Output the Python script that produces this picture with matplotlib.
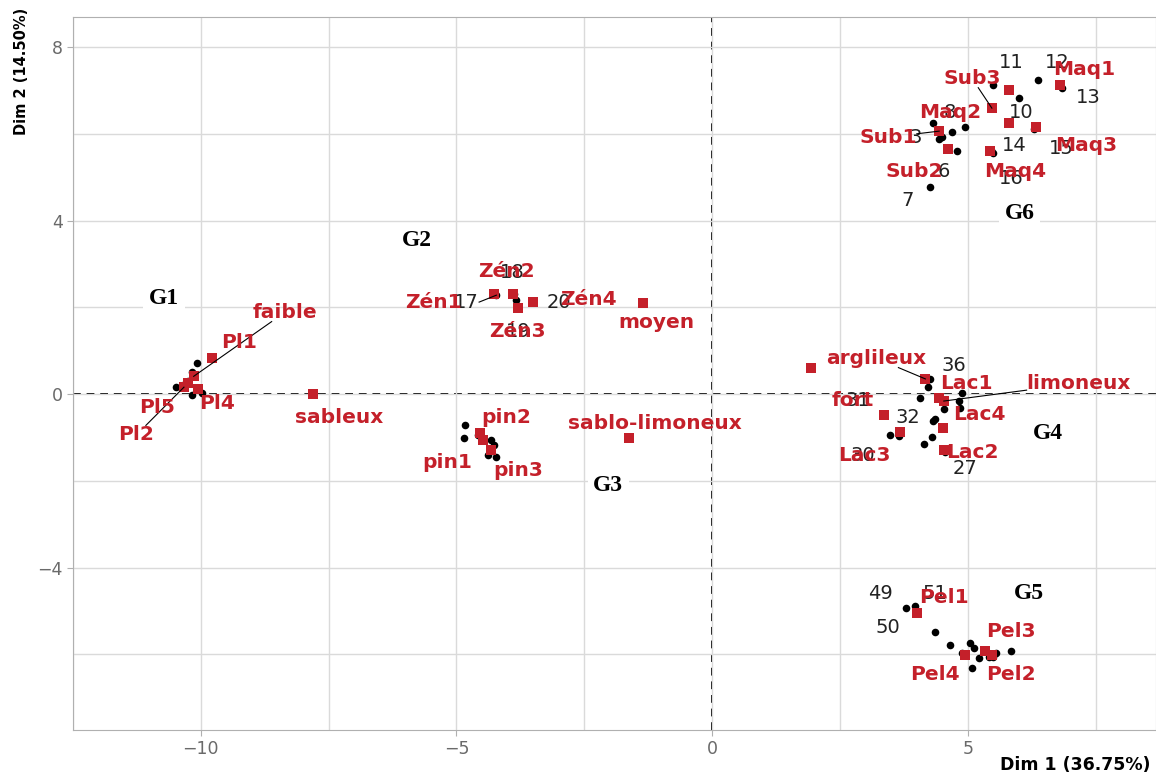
import numpy as np
import matplotlib
matplotlib.use('Agg')
import matplotlib.pyplot as plt

# individuals (black dots): coordinates, number label, label position
ind_x = [6.38, 5.50, 6.01, 6.85, 4.32, 4.94, 4.69, 4.44, 4.50, 4.79, 4.26, 5.45, 6.30, 5.50,
         -4.22, -3.88, -3.80, -3.53, -3.84,
         -10.08, -10.17, -10.48, -10.17, -9.98, -10.35, -10.25,
         -4.84, -4.86, -4.32, -4.26, -4.38, -4.22, -4.57,
         4.26, 4.22, 4.07, 4.88, 4.83, 4.53, 4.84, 4.36, 4.32, 3.35, 3.66, 3.47, 4.30, 4.15, 4.55,
         3.80, 3.97, 4.36, 4.65, 5.04, 5.12, 4.88, 5.21, 5.41, 5.56, 5.85, 5.50, 5.08]
ind_y = [7.23, 7.12, 6.82, 7.05, 6.24, 6.15, 6.04, 5.88, 5.92, 5.60, 4.77, 5.62, 6.10, 5.55,
         2.28, 2.30, 1.98, 2.12, 2.17,
         0.71, 0.51, 0.16, -0.02, 0.02, 0.20, 0.30,
         -0.71, -1.01, -1.06, -1.17, -1.41, -1.45, -0.94,
         0.35, 0.16, -0.09, 0.02, -0.16, -0.35, -0.32, -0.58, -0.62, -0.45, -0.97, -0.94, -0.99, -1.15, -1.33,
         -4.93, -4.88, -5.48, -5.78, -5.74, -5.85, -5.97, -6.08, -6.06, -5.97, -5.92, -6.06, -6.31]
ind_lab = ['12', '11', '10', '13', '', '8', '', '3', '', '6', '7', '14', '15', '16',
           '17', '18', '19', '20', '',
           '', '', '', '', '', '', '',
           '', '', '', '', '', '', '',
           '36', '', '', '', '', '', '', '', '32', '31', '', '30', '', '', '27',
           '49', '51', '50', '', '', '', '', '', '', '', '', '', '']
ind_lx = {'12': 6.74, '11': 5.85, '10': 6.05, '13': 7.36, '8': 4.65, '3': 3.99, '6': 4.53,
          '7': 3.82, '14': 5.91, '15': 6.82, '16': 5.85, '17': -4.80, '18': -3.90, '19': -3.80,
          '20': -3.00, '36': 4.73, '32': 3.82, '31': 2.85, '30': 2.95, '27': 4.94,
          '49': 3.29, '51': 4.36, '50': 3.43}
ind_ly = {'12': 7.65, '11': 7.65, '10': 6.50, '13': 6.84, '8': 6.50, '3': 5.92, '6': 5.14,
          '7': 4.45, '14': 5.74, '15': 5.67, '16': 4.98, '17': 2.12, '18': 2.80, '19': 1.45,
          '20': 2.10, '36': 0.67, '32': -0.55, '31': -0.14, '30': -1.41, '27': -1.71,
          '49': -4.59, '51': -4.59, '50': -5.37}

# categories (red squares)
cat_lab = ['Sub3', '', 'Maq1', 'Maq2', 'Maq3', 'Sub1', 'Sub2', 'Maq4',
           'Zén1', 'Zén2', 'Zén3', 'Zén4', 'moyen',
           'Pl1', 'faible', 'Pl2', 'Pl4', 'Pl5', 'sableux',
           'pin2', 'pin1', 'pin3', 'sablo-limoneux',
           'arglileux', '', 'limoneux', 'Lac1', 'Lac4', 'fort', 'Lac3', 'Lac2',
           'Pel1', 'Pel3', 'Pel4', 'Pel2']
cat_x = [5.47, 5.81, 6.80, 5.81, 6.34, 4.44, 4.61, 5.43,
         -4.26, -3.90, -3.80, -3.50, -1.36,
         -9.79, -10.14, -10.33, -10.05, -10.25, -7.81,
         -4.55, -4.48, -4.32, -1.63,
         4.17, 1.94, 4.53, 4.44, 4.52, 3.37, 3.68, 4.53,
         4.01, 5.33, 4.94, 5.47]
cat_y = [6.59, 7.00, 7.13, 6.24, 6.15, 6.06, 5.65, 5.60,
         2.30, 2.30, 1.98, 2.12, 2.10,
         0.83, 0.41, 0.16, 0.12, 0.25, 0.00,
         -0.90, -1.06, -1.29, -1.01,
         0.35, 0.60, -0.16, -0.09, -0.78, -0.48, -0.88, -1.29,
         -5.05, -5.92, -6.01, -6.01]
cat_lx = [5.08, 0, 7.28, 4.65, 7.32, 3.44, 3.96, 5.93,
          -5.45, -4.03, -3.80, -2.42, -1.09,
          -9.25, -8.35, -11.26, -9.69, -10.85, -7.29,
          -4.03, -5.19, -3.80, -1.12,
          3.20, 0, 7.17, 4.98, 5.23, 2.75, 2.98, 5.08,
          4.53, 5.85, 4.36, 5.85]
cat_ly = [7.28, 0, 7.48, 6.50, 5.74, 5.92, 5.14, 5.14,
          2.12, 2.83, 1.45, 2.17, 1.64,
          1.18, 1.89, -0.94, -0.21, -0.30, -0.53,
          -0.55, -1.57, -1.75, -0.67,
          0.83, 0, 0.25, 0.25, -0.48, -0.14, -1.41, -1.34,
          -4.68, -5.48, -6.47, -6.47]
leaders = ['Sub3', 'Sub1', 'faible', 'Pl2', 'arglileux', 'limoneux']

groups = ['G1', 'G2', 'G3', 'G4', 'G5', 'G6']
grp_x = [-10.72, -5.78, -2.03, 6.57, 6.20, 6.01]
grp_y = [2.21, 3.55, -2.10, -0.90, -4.59, 4.17]

red = '#C4202A'

fig = plt.figure(figsize=(11.56, 7.83), dpi=100)
ax = fig.add_axes([73 / 1156, 53 / 783, 1 - 73 / 1156, 713 / 783])
ax.set_xlim(-12.31, 8.68)
ax.set_ylim(-7.74, 8.69)

ax.set_xticks([-10, -5, 0, 5])
ax.set_xticks([-12.5, -7.5, -2.5, 2.5, 7.5], minor=True)
ax.set_yticks([-4, 0, 4, 8])
ax.set_yticks([-6, -2, 2, 6], minor=True)
ax.grid(True, which='both', color='#DADADA', lw=1, zorder=0)
for s in ax.spines.values():
    s.set_color('#B0B0B0')
ax.tick_params(which='major', colors='#B0B0B0', labelcolor='#6A6A6A', labelsize=12.5, length=4)
ax.tick_params(which='minor', length=0)

ax.axhline(0, color='black', ls=(0, (4, 3)), lw=1.4, zorder=1)
ax.axvline(0, color='black', ls=(0, (4, 3)), lw=1.4, zorder=1)

ax.scatter(ind_x, ind_y, s=30, color='black', zorder=3, linewidths=0)
ax.scatter(cat_x, cat_y, s=42, marker='s', color=red, zorder=4, linewidths=0)

for x, y, lab in zip(ind_x, ind_y, ind_lab):
    if lab:
        ax.text(ind_lx[lab], ind_ly[lab], lab, fontsize=14, color='#222222',
                ha='center', va='center', zorder=5)

cat_txt = {}
for x, y, lab, lx, ly in zip(cat_x, cat_y, cat_lab, cat_lx, cat_ly):
    if lab:
        cat_txt[lab] = (ax.text(lx, ly, lab, fontsize=14.5, fontweight='bold', color=red,
                                ha='center', va='center', zorder=6), x, y)

for g, x, y in zip(groups, grp_x, grp_y):
    ax.text(x, y, g, fontsize=17, fontweight='bold', family='Liberation Serif',
            color='black', ha='center', va='center', zorder=7,
            bbox=dict(facecolor='white', edgecolor='none', pad=4))

# leader segments from label box edge to its point
fig.canvas.draw()
inv = ax.transData.inverted()
for lab in leaders:
    txt, px, py = cat_txt[lab]
    bb = txt.get_window_extent()
    c = np.array([(bb.x0 + bb.x1) / 2, (bb.y0 + bb.y1) / 2])
    p = ax.transData.transform((px, py))
    d = p - c
    t = min(abs(bb.width / 2 / d[0]) if d[0] else np.inf,
            abs(bb.height / 2 / d[1]) if d[1] else np.inf)
    start = inv.transform(c + t * d)
    ax.plot([start[0], px], [start[1], py], color='black', lw=0.8, zorder=5)

# "17" leader
txt17 = [t for t in ax.texts if t.get_text() == '17'][0]
bb = txt17.get_window_extent()
s17 = inv.transform((bb.x1, (bb.y0 + bb.y1) / 2))
ax.plot([s17[0], ind_x[14]], [s17[1], ind_y[14]], color='black', lw=0.8, zorder=5)

fig.text(1150 / 1156, 18 / 783, 'Dim 1 (36.75%)', ha='right', va='center',
         fontsize=12.5, fontweight='bold')
fig.text(22 / 1156, 1 - 8 / 783, 'Dim 2 (14.50%)', ha='center', va='top',
         rotation=90, fontsize=10.5, fontweight='bold')

fig.savefig('out.png', dpi=100)
